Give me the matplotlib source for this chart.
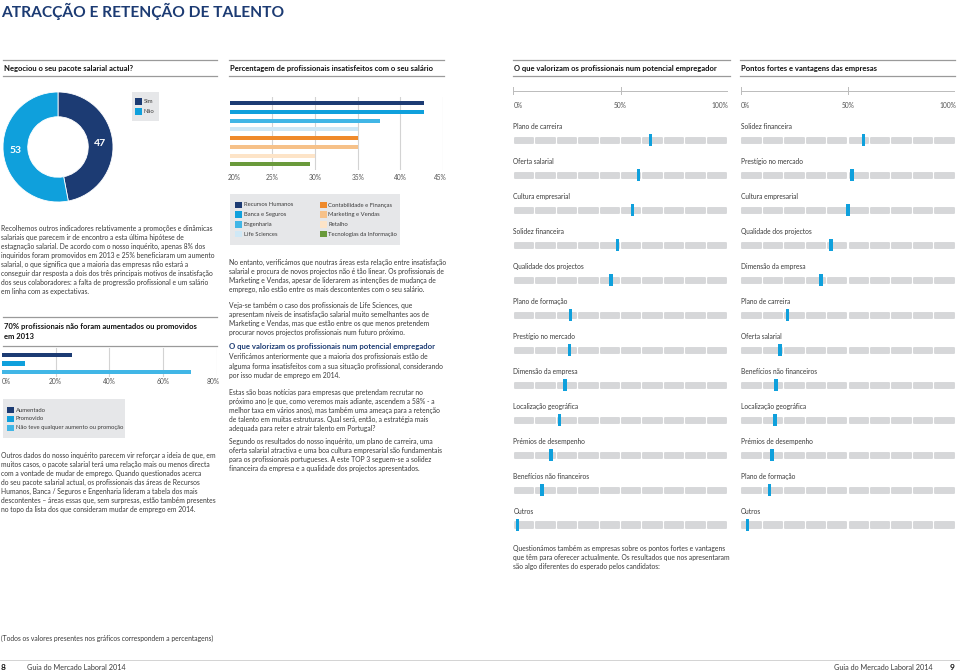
import matplotlib
matplotlib.use('Agg')
import matplotlib.pyplot as plt
import numpy as np

plt.rcParams['font.family'] = ['Lato', 'DejaVu Sans']

NAVY = '#1c3b73'
BLUE = '#0fa0dc'
LBLUE = '#41b6e6'
PBLUE = '#cfe8f6'
ORANGE = '#ef8a2b'
LORANGE = '#f6c189'
PEACH = '#fde4c8'
GREEN = '#6a9a3b'
TXT = '#3a3a3a'
RULE = '#9a9a9a'
SEG = '#d6d7d9'

# donut
donut_labels = ['Sim', 'Não']
donut_values = [47, 53]

# insatisfied by area
areas = ['Recursos Humanos', 'Banca e Seguros', 'Engenharia', 'Life Sciences',
         'Contabilidade e Finanças', 'Marketing e Vendas', 'Retalho',
         'Tecnologias da Informação']
area_values = [42.8, 42.8, 37.6, 35, 35, 35, 30, 29.4]
area_colors = [NAVY, BLUE, LBLUE, PBLUE, ORANGE, LORANGE, PEACH, GREEN]

# promoted / raised
promo_labels = ['Aumentado', 'Promovido', 'Não teve qualquer aumento ou promoção']
promo_values = [26, 8.5, 70.4]
promo_colors = [NAVY, BLUE, LBLUE]

# what candidates value
cand_labels = ['Plano de carreira', 'Oferta salarial', 'Cultura empresarial',
               'Solidez financeira', 'Qualidade dos projectos', 'Plano de formação',
               'Prestígio no mercado', 'Dimensão da empresa', 'Localização geográfica',
               'Prémios de desempenho', 'Benefícios não financeiros', 'Outros']
cand_values = [64, 58.5, 55.5, 48.5, 45.6, 26.6, 26.1, 24.1, 21.5, 17.6, 13.4, 1.9]

# company strengths
comp_labels = ['Solidez financeira', 'Prestígio no mercado', 'Cultura empresarial',
               'Qualidade dos projectos', 'Dimensão da empresa', 'Plano de carreira',
               'Oferta salarial', 'Benefícios não financeiros', 'Localização geográfica',
               'Prémios de desempenho', 'Plano de formação', 'Outros']
comp_values = [57.3, 51.9, 50, 42, 37.4, 21.7, 18.3, 16.5, 16, 14.6, 13.5, 3.2]

BODY = 4.85
HEAD = 5.5
LEG = 4.2
TICK = 4.8

W, H = 960, 672
fig = plt.figure(figsize=(9.6, 6.72), dpi=100)
bg = fig.add_axes([0, 0, 1, 1])
bg.set_xlim(0, W)
bg.set_ylim(H, 0)
bg.axis('off')


def px_axes(x0, y0, x1, y1):
    return fig.add_axes([x0 / W, 1 - y1 / H, (x1 - x0) / W, (y1 - y0) / H])


def rule(x0, x1, y, color=RULE, lw=0.9):
    bg.plot([x0, x1], [y, y], color=color, lw=lw)


def para(x, y, lines, step=9.1, size=BODY, color=TXT, weight='normal'):
    for i, s in enumerate(lines):
        bg.text(x, y + i * step, s, fontsize=size, color=color,
                va='center', ha='left', fontweight=weight)


def header(x0, x1, y_top, y_bot, lines):
    rule(x0, x1, y_top)
    rule(x0, x1, y_bot)
    n = len(lines)
    mid = (y_top + y_bot) / 2
    for i, s in enumerate(lines):
        bg.text(x0 + 1, mid + (i - (n - 1) / 2) * 10, s, fontsize=HEAD,
                fontweight='bold', color='#111111', va='center')


def legend_box(x0, y0, x1, y1, entries, size=LEG):
    bg.add_patch(plt.Rectangle((x0, y0), x1 - x0, y1 - y0, color='#e6e7e9', lw=0))
    for (x, y, c, s) in entries:
        bg.add_patch(plt.Rectangle((x, y - 3.3), 6.6, 6.6, color=c, lw=0))
        bg.text(x + 8.5, y, s, fontsize=size, color=TXT, va='center')


# title
bg.text(1, 11, 'ATRACÇÃO E RETENÇÃO DE TALENTO', fontsize=11.2, fontweight='bold',
        color=NAVY, va='center')

# headers
header(3, 217, 60, 76, ['Negociou o seu pacote salarial actual?'])
header(229, 444, 60, 76, ['Percentagem de profissionais insatisfeitos com o seu salário'])
header(513, 730, 60, 76, ['O que valorizam os profissionais num potencial empregador'])
header(740, 955, 60, 76, ['Pontos fortes e vantagens das empresas'])
header(3, 217, 317, 346, ['70% profissionais não foram aumentados ou promovidos', 'em 2013'])

# donut
ax = px_axes(3, 92, 113, 202)
ax.pie(donut_values, colors=[NAVY, BLUE], startangle=90, counterclock=False,
       wedgeprops=dict(width=0.45, edgecolor='white', linewidth=0.6))
ax.set_xlim(-1, 1)
ax.set_ylim(-1, 1)
ang = 90
for v in donut_values:
    mid = np.deg2rad(ang - v * 3.6 / 2)
    ax.text(0.77 * np.cos(mid), 0.77 * np.sin(mid), str(v), color='white',
            fontsize=7.5, fontweight='bold', ha='center', va='center')
    ang -= v * 3.6
legend_box(132, 92, 159, 121, [(135, 101.5, NAVY, donut_labels[0]),
                               (135, 111.5, BLUE, donut_labels[1])])

# area bars
ax = px_axes(229.6, 97, 443.1, 170)
y = np.arange(len(areas))
ax.barh(y, np.array(area_values) - 20, left=20, height=0.46, color=area_colors)
for g in [25, 30, 35, 40, 45]:
    ax.axvline(g, color='#d3d3d3', lw=0.8, zorder=0)
ax.set_xlim(20, 45)
ax.set_ylim(7.65, -0.69)
ax.axis('off')
for g in [20, 25, 30, 35, 40, 45]:
    bg.text(229.6 + (g - 20) * 8.54 + (5 if g == 20 else -3 if g == 45 else 0), 177,
            f'{g}%', fontsize=TICK, color='#555555', ha='center', va='center')
legend_box(230, 194, 400, 245,
           [(235, 205 + i * 9.7, area_colors[i], areas[i]) for i in range(4)] +
           [(320, 205 + i * 9.7, area_colors[4 + i], areas[4 + i]) for i in range(4)])

# promo bars
ax = px_axes(2, 348, 216.7, 376.7)
y = np.arange(len(promo_values))
ax.barh(y, promo_values, height=0.52, color=promo_colors)
for g in [20, 40, 60, 80]:
    ax.axvline(g, color='#d3d3d3', lw=0.8, zorder=0)
ax.set_xlim(0, 80)
ax.set_ylim(2.55, -0.81)
ax.axis('off')
for g in [0, 20, 40, 60, 80]:
    bg.text(2 + g * 2.684 + (4 if g == 0 else -4 if g == 80 else 0), 382, f'{g}%',
            fontsize=TICK, color='#555555', ha='center', va='center')
legend_box(3, 399, 125, 438, [(7, 410 + i * 9, promo_colors[i], promo_labels[i])
                              for i in range(3)])


# slider charts
def sliders(x0, x1, labels, values):
    ax = px_axes(x0, 80, x1, 535)
    ax.set_xlim(0, 100)
    ax.set_ylim(535, 80)
    ax.axis('off')
    ax.plot([0, 100], [91, 91], color='#bbbbbb', lw=0.7)
    for t in [0, 50, 100]:
        ax.plot([t, t], [87.5, 94.5], color='#bbbbbb', lw=0.7)
    bg.text(x0, 105, '0%', fontsize=TICK, color='#555555', va='center', ha='left')
    bg.text((x0 + x1) / 2, 105, '50%', fontsize=TICK, color='#555555', va='center',
            ha='center')
    bg.text(x1 + 1, 105, '100%', fontsize=TICK, color='#555555', va='center', ha='right')
    for i, (lab, v) in enumerate(zip(labels, values)):
        yb = 140.2 + i * 34.99
        ax.text(0, yb - 13.5, lab, fontsize=TICK, color=TXT, va='center')
        ax.barh([yb] * 10, 8.6, left=np.arange(10) * 10 + 0.7, height=5.2,
                color=SEG, edgecolor=SEG, lw=1.4, joinstyle='round')
        ax.barh(yb, 1.6, left=v - 0.8, height=12, color=BLUE, zorder=5)


sliders(513.3, 727.7, cand_labels, cand_values)
sliders(740.7, 955.3, comp_labels, comp_values)

# body text
para(1, 228, [
    'Recolhemos outros indicadores relativamente a promoções e dinâmicas',
    'salariais que parecem ir de encontro a esta última hipótese de',
    'estagnação salarial. De acordo com o nosso inquérito, apenas 8% dos',
    'inquiridos foram promovidos em 2013 e 25% beneficiaram um aumento',
    'salarial, o que significa que a maioria das empresas não estará a',
    'conseguir dar resposta a dois dos três principais motivos de insatisfação',
    'dos seus colaboradores: a falta de progressão profissional e um salário',
    'em linha com as expectativas.'])

para(1, 455, [
    'Outros dados do nosso inquérito parecem vir reforçar a ideia de que, em',
    'muitos casos, o pacote salarial terá uma relação mais ou menos directa',
    'com a vontade de mudar de emprego. Quando questionados acerca',
    'do seu pacote salarial actual, os profissionais das áreas de Recursos',
    'Humanos, Banca / Seguros e Engenharia lideram a tabela dos mais',
    'descontentes – áreas essas que, sem surpresas, estão também presentes',
    'no topo da lista dos que consideram mudar de emprego em 2014.'])

para(229, 262, [
    'No entanto, verificámos que noutras áreas esta relação entre insatisfação',
    'salarial e procura de novos projectos não é tão linear. Os profissionais de',
    'Marketing e Vendas, apesar de liderarem as intenções de mudança de',
    'emprego, não estão entre os mais descontentes com o seu salário.'])

para(229, 305, [
    'Veja-se também o caso dos profissionais de Life Sciences, que',
    'apresentam níveis de insatisfação salarial muito semelhantes aos de',
    'Marketing e Vendas, mas que estão entre os que menos pretendem',
    'procurar novos projectos profissionais num futuro próximo.'])

bg.text(229, 346, 'O que valorizam os profissionais num potencial empregador',
        fontsize=5.6, fontweight='bold', color=NAVY, va='center')

para(229, 357, [
    'Verificámos anteriormente que a maioria dos profissionais estão de',
    'alguma forma insatisfeitos com a sua situação profissional, considerando',
    'por isso mudar de emprego em 2014.'])

para(229, 392, [
    'Estas são boas notícias para empresas que pretendam recrutar no',
    'próximo ano (e que, como veremos mais adiante, ascendem a 58% - a',
    'melhor taxa em vários anos), mas também uma ameaça para a retenção',
    'de talento em muitas estruturas. Qual será, então, a estratégia mais',
    'adequada para reter e atrair talento em Portugal?'])

para(229, 441, [
    'Segundo os resultados do nosso inquérito, um plano de carreira, uma',
    'oferta salarial atractiva e uma boa cultura empresarial são fundamentais',
    'para os profissionais portugueses. A este TOP 3 seguem-se a solidez',
    'financeira da empresa e a qualidade dos projectos apresentados.'])

para(513, 548, [
    'Questionámos também as empresas sobre os pontos fortes e vantagens',
    'que têm para oferecer actualmente. Os resultados que nos apresentaram',
    'são algo diferentes do esperado pelos candidatos:'])

bg.text(1, 638, '(Todos os valores presentes nos gráficos correspondem a percentagens)',
        fontsize=BODY, color=TXT, va='center')

# footer
rule(0, 960, 660, color='#cccccc', lw=0.6)
bg.text(1, 668, '8', fontsize=6, fontweight='bold', color='#111111', va='center')
bg.text(27, 668, 'Guia do Mercado Laboral 2014', fontsize=5.2, color=TXT, va='center')
bg.text(933, 668, 'Guia do Mercado Laboral 2014', fontsize=5.2, color=TXT, va='center',
        ha='right')
bg.text(955, 668, '9', fontsize=6, fontweight='bold', color='#111111', va='center',
        ha='right')

fig.savefig('out.png', dpi=100, facecolor='white')
